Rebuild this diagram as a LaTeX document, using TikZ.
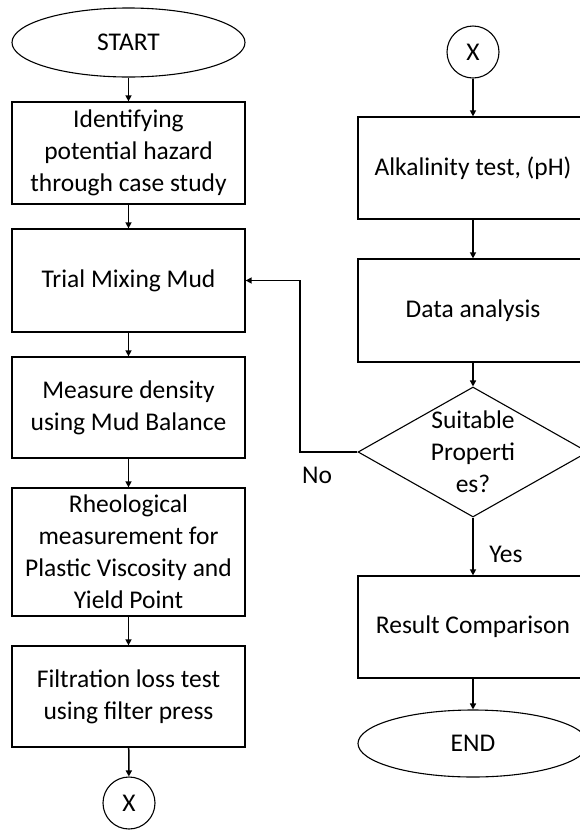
\documentclass[tikz,border=0pt]{standalone}
\usepackage{fontspec}
\setmainfont{Carlito}
\usetikzlibrary{shapes.geometric,arrows.meta}
\begin{document}
\begin{tikzpicture}[x=1pt,y=-1pt,
  every node/.style={font=\fontsize{25.5}{32}\selectfont, text=black},
  procbox/.style={draw, line width=1.3pt, rectangle, minimum width=233pt, align=center, inner sep=0pt},
  termbox/.style={draw, line width=1.1pt, ellipse, minimum width=233pt, minimum height=69pt, inner sep=0pt},
  conn/.style={draw, line width=1.1pt, circle, minimum size=52pt, inner sep=0pt},
  decbox/.style={draw, line width=1.1pt, diamond, minimum width=230pt, minimum height=130pt, inner sep=0pt},
  flow/.style={line width=1.5pt, -{Triangle[length=6pt,width=6pt]}},
  lbl/.style={font=\fontsize{25.5}{32}\selectfont}
]
\clip (0,0) rectangle (580,831);
\useasboundingbox (0,0) rectangle (580,831);
% left column
\node[termbox] (start) at (128.5,42.5) {START};
\node[procbox, minimum height=102pt] (b1) at (128.5,153) {Identifying\\potential hazard\\through case study};
\node[procbox, minimum height=103pt] (b2) at (128.5,280.5) {Trial Mixing Mud};
\node[procbox, minimum height=101pt] (b3) at (128.5,407.5) {Measure density\\using Mud Balance};
\node[procbox, minimum height=128pt] (b4) at (128.5,552) {Rheological\\measurement for\\Plastic Viscosity and\\Yield Point};
\node[procbox, minimum height=101pt] (b5) at (128.5,696.5) {Filtration loss test\\using filter press};
\node[conn] (xl) at (129,803) {X};
% right column
\node[conn] (xr) at (473,52) {X};
\node[procbox, minimum width=230pt, minimum height=102pt] (a1) at (473,168) {Alkalinity test, (pH)};
\node[procbox, minimum width=230pt, minimum height=103pt] (a2) at (473,310.5) {Data analysis};
\node[decbox, label={[align=center]center:Suitable\\Properti\\es?}] (dia) at (473,452) {};
\node[procbox, minimum width=230pt, minimum height=102pt] (rc) at (473,627) {Result Comparison};
\node[termbox, minimum width=230pt, minimum height=67pt] (end) at (473,743.5) {END};
% labels
\node[lbl] (no) at (317,475) {No};
\node[lbl] (yes) at (506,554) {Yes};
\coordinate (fb) at (300,452);
% connectors
\draw[flow] (start) -- (b1);
\draw[flow] (b1) -- (b2);
\draw[flow] (b2) -- (b3);
\draw[flow] (b3) -- (b4);
\draw[flow] (b4) -- (b5);
\draw[flow] (b5) -- (xl);
\draw[flow] (xr) -- (a1);
\draw[flow] (a1) -- (a2);
\draw[flow] (a2) -- (dia);
\draw[flow] (dia) -- (rc);
\draw[flow] (rc) -- (end);
\draw[flow] (dia.west) -- (fb) |- (b2.east);
\end{tikzpicture}
\end{document}
